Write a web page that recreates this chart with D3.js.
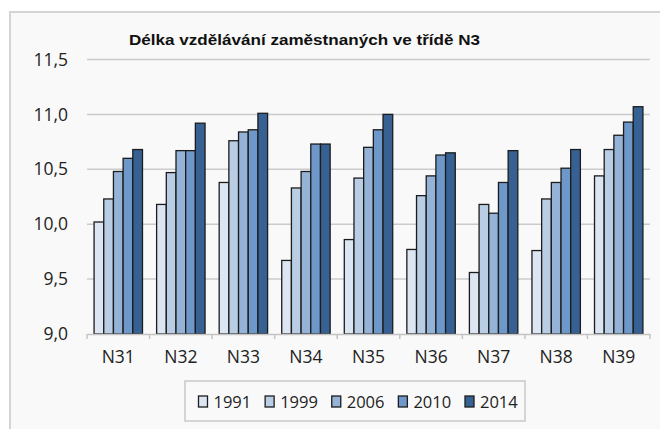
<!DOCTYPE html>
<html>
<head>
<meta charset="utf-8">
<script src="https://cdn.jsdelivr.net/npm/d3@7"></script>
<style>
  body { margin: 0; background: #fff; }
  svg { display: block; }
</style>
</head>
<body>
<div id="chart"></div>
<script>

// categories, series and ticks
var categories = ["N31", "N32", "N33", "N34", "N35", "N36", "N37", "N38", "N39"];
var years = ["1991", "1999", "2006", "2010", "2014"];
var v1991 = [10.02, 10.18, 10.38, 9.67, 9.86, 9.77, 9.56, 9.76, 10.44];
var v1999 = [10.23, 10.47, 10.76, 10.33, 10.42, 10.26, 10.18, 10.23, 10.68];
var v2006 = [10.48, 10.67, 10.84, 10.48, 10.70, 10.44, 10.10, 10.38, 10.81];
var v2010 = [10.60, 10.67, 10.86, 10.73, 10.86, 10.63, 10.38, 10.51, 10.93];
var v2014 = [10.68, 10.92, 11.01, 10.73, 11.00, 10.65, 10.67, 10.68, 11.07];
var yTicks = [9.0, 9.5, 10.0, 10.5, 11.0, 11.5];
var title = "Délka vzdělávání zaměstnaných ve třídě N3";

var series = [v1991, v1999, v2006, v2010, v2014];
var colors = ["#dce6f2", "#b9cde5", "#95b3d7", "#6f98ca", "#376193"];

var W = 660, H = 429;
var margin = {left: 87, right: 10, top: 59.5, bottom: 95};

var svg = d3.select("#chart").append("svg")
  .attr("width", W)
  .attr("height", H);

// chart frame (runs off right/bottom edge like the original)
svg.append("rect")
  .attr("x", 10).attr("y", 12)
  .attr("width", 700).attr("height", 500)
  .attr("fill", "#f9f9f9")
  .attr("stroke", "#d4d4d4")
  .attr("stroke-width", 2);

var x0 = d3.scaleBand()
  .domain(categories)
  .range([margin.left, W - margin.right])
  .paddingInner(0).paddingOuter(0);

var x1 = d3.scaleBand()
  .domain(years)
  .range([0, x0.bandwidth()])
  .paddingInner(0)
  .paddingOuter(0.73);

var y = d3.scaleLinear()
  .domain([9, 11.5])
  .range([334, margin.top]);

var fmt = function(d) { return d3.format(".1f")(d).replace(".", ","); };

// gridlines
svg.append("g")
  .selectAll("line")
  .data(yTicks.filter(function(d) { return d > 9; }))
  .enter().append("line")
    .attr("x1", margin.left).attr("x2", W - margin.right)
    .attr("y1", function(d) { return y(d); })
    .attr("y2", function(d) { return y(d); })
    .attr("stroke", "#cbcbcb")
    .attr("stroke-width", 1.5);

// y labels
var yAxis = svg.append("g")
  .attr("transform", "translate(" + margin.left + ",0)")
  .call(d3.axisLeft(y).tickValues(yTicks).tickFormat(fmt).tickSize(0).tickPadding(19));
yAxis.select(".domain").remove();
yAxis.selectAll("text")
  .attr("font-family", "'Open Sans', sans-serif")
  .attr("font-size", "17.5px")
  .attr("fill", "#222");

// bars
var groups = svg.append("g")
  .selectAll("g")
  .data(series)
  .enter().append("g")
    .attr("fill", function(d, i) { return colors[i]; });

groups.each(function(vals, si) {
  d3.select(this).selectAll("rect")
    .data(vals)
    .enter().append("rect")
      .attr("x", function(d, i) { return x0(categories[i]) + x1(years[si]); })
      .attr("y", function(d) { return y(d); })
      .attr("width", x1.bandwidth())
      .attr("height", function(d) { return y(9) - y(d); })
      .attr("stroke", "#1c1c1c")
      .attr("stroke-width", 1.3);
});

// x axis
var xAxis = svg.append("g")
  .attr("transform", "translate(0," + y(9) + ")")
  .call(d3.axisBottom(x0).tickSize(0).tickPadding(17));
xAxis.select(".domain").attr("stroke", "#c4c4c4").attr("stroke-width", 1.5);
xAxis.selectAll("text")
  .attr("font-family", "'Open Sans', sans-serif")
  .attr("font-size", "17.5px")
  .attr("fill", "#222");

// category separator ticks
svg.append("g")
  .selectAll("line")
  .data(categories.concat(["end"]))
  .enter().append("line")
    .attr("x1", function(d, i) { return margin.left + i * x0.step(); })
    .attr("x2", function(d, i) { return margin.left + i * x0.step(); })
    .attr("y1", y(9)).attr("y2", y(9) + 5)
    .attr("stroke", "#c4c4c4")
    .attr("stroke-width", 1.5);

// title
svg.append("text")
  .attr("transform", "translate(129,45) scale(1.22,1)")
  .attr("font-family", "'Liberation Sans', Arial, sans-serif")
  .attr("font-weight", "bold")
  .attr("font-size", "14px")
  .attr("fill", "#111")
  .text(title);

// legend
var legend = svg.append("g");
legend.append("rect")
  .attr("x", 185).attr("y", 381)
  .attr("width", 340).attr("height", 40)
  .attr("fill", "#f9f9f9")
  .attr("stroke", "#c8c8c8")
  .attr("stroke-width", 1.5);

var lx = d3.scalePoint()
  .domain(years)
  .range([198, 464.5]);

var item = legend.selectAll(".leg")
  .data(years)
  .enter().append("g")
    .attr("class", "leg")
    .attr("transform", function(d) { return "translate(" + lx(d) + ",0)"; });

item.append("rect")
  .attr("x", 0.5).attr("y", 396)
  .attr("width", 9).attr("height", 11)
  .attr("fill", function(d, i) { return colors[i]; })
  .attr("stroke", "#1c1c1c")
  .attr("stroke-width", 1.3);

item.append("text")
  .attr("x", 15.5).attr("y", 402)
  .attr("dy", "0.35em")
  .attr("font-family", "'Open Sans', sans-serif")
  .attr("font-size", "16.5px")
  .attr("fill", "#222")
  .text(function(d) { return d; });

</script>
</body>
</html>
